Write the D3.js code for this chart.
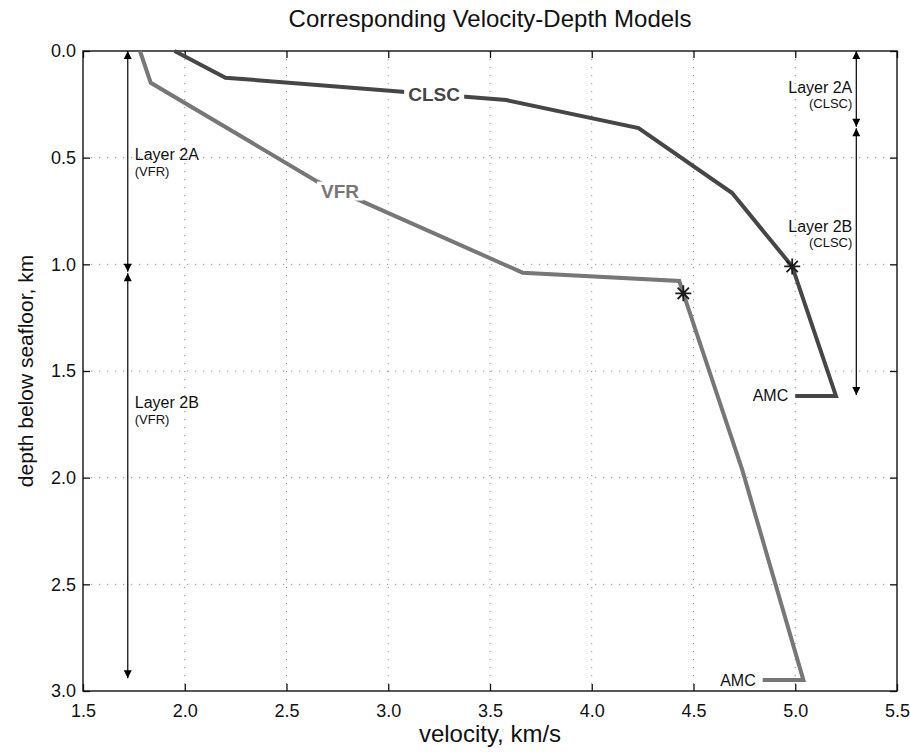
<!DOCTYPE html>
<html>
<head>
<meta charset="utf-8">
<script src="https://cdn.jsdelivr.net/npm/d3@7.9.0/dist/d3.min.js"></script>
<style>
  body { margin: 0; background: #fff; }
  svg { display: block; font-family: "Liberation Sans", Arial, Helvetica, sans-serif; }
</style>
</head>
<body>
<svg id="chart" width="910" height="752"></svg>
<script>
// axis ticks
const xTicks = [1.5, 2.0, 2.5, 3.0, 3.5, 4.0, 4.5, 5.0, 5.5];
const yTicks = [0.0, 0.5, 1.0, 1.5, 2.0, 2.5, 3.0];

// velocity-depth models (km/s, km)
const clscVelocity = [1.95, 2.2, 3.58, 4.23, 4.69, 4.985, 5.2, 5.0];
const clscDepth = [0, 0.125, 0.23, 0.361, 0.666, 1.01, 1.617, 1.617];
const vfrVelocity = [1.78, 1.833, 2.65, 3.66, 4.43, 4.45, 4.74, 5.04, 4.84];
const vfrDepth = [0, 0.149, 0.611, 1.039, 1.078, 1.136, 1.965, 2.949, 2.949];

// starred points (layer 2A/2B boundary)
const starVelocity = [4.985, 4.45];
const starDepth = [1.01, 1.136];

// layer brackets
const layerNames = ["Layer 2A", "Layer 2B", "Layer 2A", "Layer 2B"];
const layerModels = ["(VFR)", "(VFR)", "(CLSC)", "(CLSC)"];
const layerVelocity = [1.72, 1.72, 5.3, 5.3];
const layerTop = [0, 1.042, 0, 0.362];
const layerBottom = [1.035, 2.94, 0.355, 1.613];
const layerLabelDepth = [0.511, 1.675, 0.195, 0.847];

const margin = { top: 51, right: 13, bottom: 61, left: 83 };
const W = 910, H = 752;
const svg = d3.select("#chart");

const x = d3.scaleLinear().domain([1.5, 5.5]).range([margin.left, W - margin.right]);
const y = d3.scaleLinear().domain([0, 3]).range([margin.top, H - margin.bottom]);

// grid
const grid = svg.append("g")
  .attr("stroke", "#8a8a8a")
  .attr("stroke-width", 1)
  .attr("stroke-dasharray", "1.2,6.8");
grid.selectAll(".gx").data(xTicks.slice(1, -1)).join("line")
  .attr("x1", d => x(d)).attr("x2", d => x(d))
  .attr("y1", y(0)).attr("y2", y(3));
grid.selectAll(".gy").data(yTicks.slice(1, -1)).join("line")
  .attr("y1", d => y(d)).attr("y2", d => y(d))
  .attr("x1", x(1.5)).attr("x2", x(5.5));

// axes (ticks point inward on all four sides)
const fmt = d3.format(".1f");
function styleAxis(g) {
  g.select(".domain").remove();
  g.selectAll(".tick line").attr("stroke", "#111").attr("stroke-width", 1.3);
  g.selectAll(".tick text").attr("fill", "#111").attr("font-size", 18);
}
svg.append("g").attr("transform", `translate(0,${y(3)})`)
  .call(d3.axisBottom(x).tickValues(xTicks).tickFormat(fmt).tickSize(-7).tickPadding(13))
  .call(styleAxis);
svg.append("g").attr("transform", `translate(0,${y(0)})`)
  .call(d3.axisTop(x).tickValues(xTicks).tickFormat("").tickSize(-7))
  .call(styleAxis);
svg.append("g").attr("transform", `translate(${x(1.5)},0)`)
  .call(d3.axisLeft(y).tickValues(yTicks).tickFormat(fmt).tickSize(-7).tickPadding(7))
  .call(styleAxis);
svg.append("g").attr("transform", `translate(${x(5.5)},0)`)
  .call(d3.axisRight(y).tickValues(yTicks).tickFormat("").tickSize(-7))
  .call(styleAxis);
svg.selectAll("g text").attr("font-family", null);

svg.append("rect")
  .attr("x", x(1.5)).attr("y", y(0))
  .attr("width", x(5.5) - x(1.5)).attr("height", y(3) - y(0))
  .attr("fill", "none").attr("stroke", "#111").attr("stroke-width", 1.4);

// model curves
const line = d3.line().x(d => x(d[0])).y(d => y(d[1]));
const models = [
  { name: "CLSC", color: "#464646", pts: d3.zip(clscVelocity, clscDepth), lab: [3.225, 0.2016] },
  { name: "VFR", color: "#777777", pts: d3.zip(vfrVelocity, vfrDepth), lab: [2.763, 0.655] }
];
models.forEach(m => {
  svg.append("path")
    .attr("d", line(m.pts))
    .attr("fill", "none")
    .attr("stroke", m.color)
    .attr("stroke-width", 4)
    .attr("stroke-linejoin", "miter");
});

// inline curve labels with white gap
models.forEach(m => {
  const g = svg.append("g");
  const t = g.append("text")
    .attr("x", x(m.lab[0])).attr("y", y(m.lab[1]))
    .attr("dy", "0.36em")
    .attr("text-anchor", "middle")
    .attr("font-size", 19).attr("font-weight", "bold")
    .attr("fill", m.color)
    .text(m.name);
  const b = t.node().getBBox();
  g.insert("rect", "text")
    .attr("x", b.x - 4).attr("y", b.y + 1)
    .attr("width", b.width + 8).attr("height", b.height - 2)
    .attr("fill", "#fff");
});

// AMC labels at the end of each curve
models.forEach(m => {
  const end = m.pts[m.pts.length - 1];
  svg.append("text")
    .attr("x", x(end[0]) - 7).attr("y", y(end[1]) + 5.5)
    .attr("text-anchor", "end")
    .attr("font-size", 16).attr("fill", "#111")
    .text("AMC");
});

// star markers
const starPath = r => {
  const d = r * Math.SQRT1_2;
  return `M${-r},0H${r}M0,${-r}V${r}M${-d},${-d}L${d},${d}M${-d},${d}L${d},${-d}`;
};
svg.selectAll(".star").data(d3.zip(starVelocity, starDepth)).join("path")
  .attr("transform", d => `translate(${x(d[0])},${y(d[1])})`)
  .attr("d", starPath(8))
  .attr("stroke", "#1a1a1a").attr("stroke-width", 1.8).attr("fill", "none");

// arrow markers
const defs = svg.append("defs");
defs.append("marker").attr("id", "ah")
  .attr("viewBox", "0 0 10 10").attr("refX", 10).attr("refY", 5)
  .attr("markerWidth", 10).attr("markerHeight", 8)
  .attr("markerUnits", "userSpaceOnUse")
  .attr("orient", "auto-start-reverse")
  .append("path").attr("d", "M0,0L10,5L0,10z").attr("fill", "#000");

layerNames.forEach((name, i) => {
  const lx = x(layerVelocity[i]);
  svg.append("line")
    .attr("x1", lx).attr("x2", lx)
    .attr("y1", y(layerTop[i])).attr("y2", y(layerBottom[i]))
    .attr("stroke", "#000").attr("stroke-width", 1.2)
    .attr("marker-start", "url(#ah)").attr("marker-end", "url(#ah)");
  const left = layerVelocity[i] < 3.5;
  const tx = left ? lx + 7 : lx - 4;
  const anchor = left ? "start" : "end";
  const ty = y(layerLabelDepth[i]);
  svg.append("text").attr("x", tx).attr("y", ty)
    .attr("text-anchor", anchor).attr("font-size", 16).attr("fill", "#111")
    .text(name);
  svg.append("text").attr("x", tx).attr("y", ty + 15.5)
    .attr("text-anchor", anchor).attr("font-size", 13).attr("fill", "#111")
    .text(layerModels[i]);
});

// titles
svg.append("text")
  .attr("x", (x(1.5) + x(5.5)) / 2).attr("y", 27)
  .attr("text-anchor", "middle").attr("font-size", 24).attr("fill", "#111")
  .text("Corresponding Velocity-Depth Models");
svg.append("text")
  .attr("x", (x(1.5) + x(5.5)) / 2).attr("y", 742)
  .attr("text-anchor", "middle").attr("font-size", 24).attr("fill", "#111")
  .text("velocity, km/s");
svg.append("text")
  .attr("transform", `translate(33,${(y(0) + y(3)) / 2}) rotate(-90)`)
  .attr("text-anchor", "middle").attr("font-size", 21).attr("fill", "#111")
  .text("depth below seafloor, km");
</script>
</body>
</html>
